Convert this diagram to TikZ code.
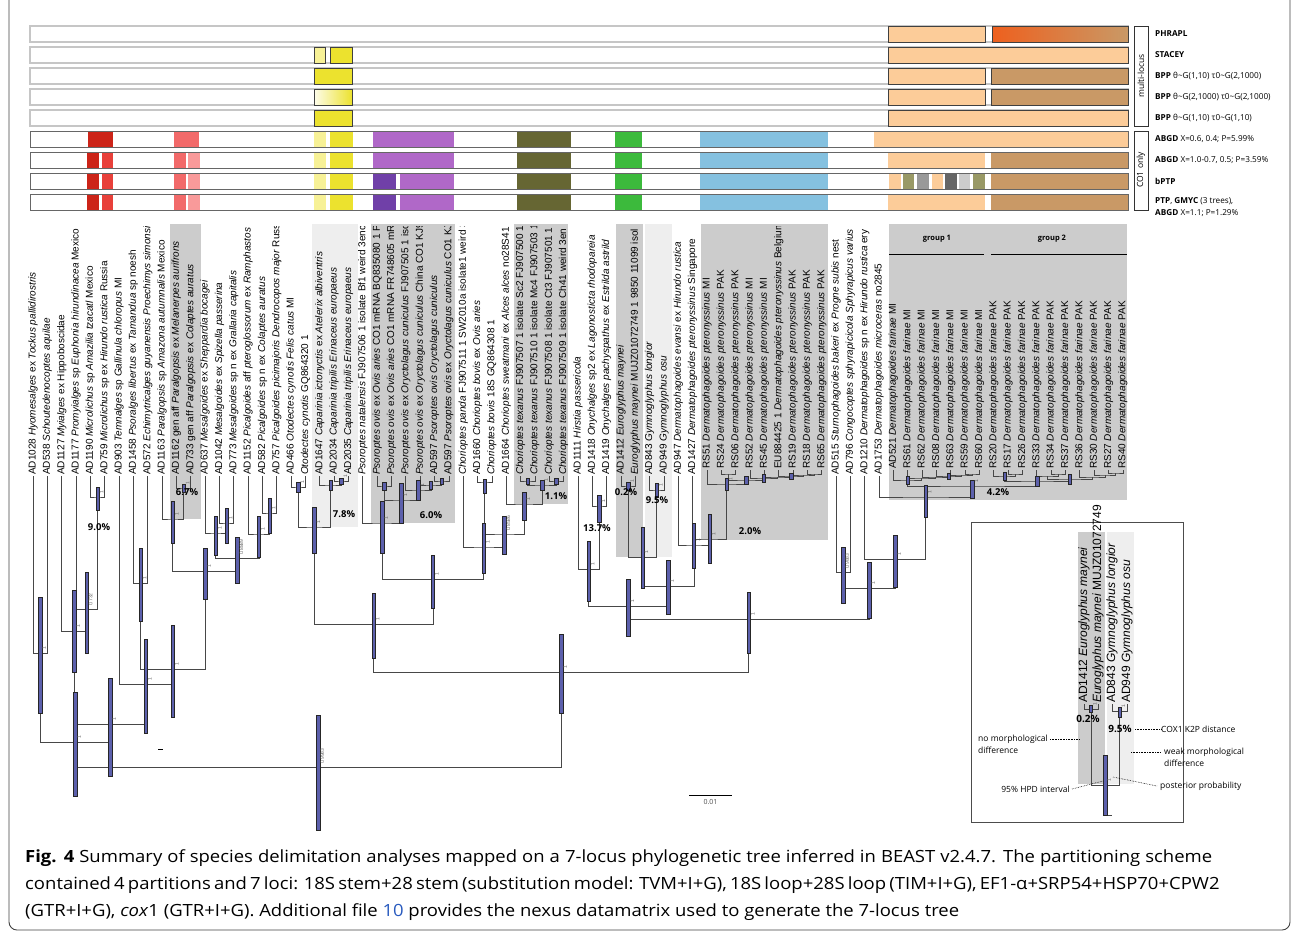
\documentclass[tikz,border=0pt]{standalone}
\usepackage{fontspec}
\setmainfont{Liberation Sans}
\newfontfamily\opensans{Open Sans}
\newfontfamily\capfont[FakeStretch=1.1]{Open Sans}
\usepackage{tikz}
\usetikzlibrary{calc}

\definecolor{red1}{RGB}{204,36,24}
\definecolor{red2}{RGB}{232,64,58}
\definecolor{sal1}{RGB}{242,106,106}
\definecolor{sal2}{RGB}{249,154,154}
\definecolor{ylw1}{RGB}{247,241,150}
\definecolor{ylw2}{RGB}{236,226,46}
\definecolor{pur1}{RGB}{176,104,200}
\definecolor{pur2}{RGB}{112,64,168}
\definecolor{olv}{RGB}{102,102,51}
\definecolor{olv2}{RGB}{153,153,102}
\definecolor{grn}{RGB}{60,186,60}
\definecolor{sky}{RGB}{133,193,224}
\definecolor{pch}{RGB}{252,204,153}
\definecolor{brn}{RGB}{201,153,102}
\definecolor{org}{RGB}{238,96,30}
\definecolor{gy1}{RGB}{153,153,153}
\definecolor{gy2}{RGB}{102,102,102}
\definecolor{gy3}{RGB}{204,204,204}
\definecolor{boxdark}{RGB}{204,204,204}
\definecolor{boxlight}{RGB}{238,238,238}
\definecolor{hpdblue}{RGB}{92,96,172}
\definecolor{linkblue}{RGB}{40,90,190}

\newcommand{\dpter}{\textit{Dermatophagoides pteronyssinus}}
\newcommand{\dfar}{\textit{Dermatophagoides farinae}}

% clade: name, height, left child, right child
\newcommand{\clade}[4]{%
  \path ($(#3)!0.5!(#4)$) coordinate (#1m);
  \coordinate (#1) at (#1m |- 0,#2);
  \draw[branch] (#3) |- (#1) -| (#4);}
% 95% HPD bar: node, top, bottom, posterior
\newcommand{\hpd}[4]{%
  \draw[hpdbar] ($(#1 |- 0,#2)+(-1.7,0)$) rectangle ($(#1 |- 0,#3)+(1.7,0)$);
  \node[pplab] (pp#1) at ($(#1)+(4,-3)$) {#4};}
% block in an alignment row: style, x1, x2, row top
\newcommand{\blk}[4][]{\fill[#1] (#2,#4) rectangle (#3,#4+16);}

\begin{document}
\begin{tikzpicture}[x=1pt,y=-1pt,
  branch/.style={draw=black!72,line width=0.7pt},
  hpdbar/.style={draw=black!85,fill=hpdblue,line width=0.5pt},
  tiplab/.style={rotate=90,anchor=west,inner sep=1pt,font=\fontsize{10}{11}\selectfont},
  pplab/.style={rotate=90,anchor=west,inner sep=0pt,text=black!60,font=\fontsize{5}{5}\selectfont},
  pct/.style={inner sep=0pt,font=\opensans\bfseries\fontsize{9.5}{10}\selectfont},
  sidelab/.style={anchor=west,inner sep=0pt,font=\opensans\fontsize{8.2}{9}\selectfont},
  annot/.style={inner sep=0pt,font=\opensans\fontsize{8.5}{9}\selectfont},
  mlrow/.style={draw=gray!45,line width=1.1pt},
  corow/.style={draw=black!60,line width=1pt},
  mlblk/.style={draw=black!75,line width=0.8pt},
  dotline/.style={densely dotted,line width=0.6pt},
  capt/.style={anchor=west,inner sep=0pt,font=\capfont\fontsize{16.8}{20}\selectfont}]
\useasboundingbox (0,0) rectangle (1295,932);

% frame
\draw[black!75,line width=0.9pt,rounded corners=8pt] (9,-10) -- (9,930) -- (1290,930) -- (1290,-10);

% ---- delimitation rows ----
\foreach \ry in {26,47,68,89,110}
  \draw[mlrow] (30,\ry) rectangle (1128,\ry+16);
% PHRAPL
\blk[mlblk,fill=pch]{888}{985}{26}
\shade[left color=org,right color=brn,draw=black!75,line width=0.8pt] (992,26) rectangle (1128,42);
% STACEY
\blk[mlblk,fill=ylw1]{314}{325}{47}
\blk[mlblk,fill=ylw2]{330}{352}{47}
\blk[mlblk,fill=pch]{888}{1128}{47}
% BPP rows
\blk[mlblk,fill=ylw2]{314}{352}{68}
\blk[mlblk,fill=pch]{888}{985}{68}
\blk[mlblk,fill=brn]{991}{1128}{68}
\shade[left color=ylw1!20,right color=ylw2,draw=black!75,line width=0.8pt] (314,89) rectangle (352,105);
\blk[mlblk,fill=pch]{888}{985}{89}
\blk[mlblk,fill=brn]{991}{1128}{89}
\blk[mlblk,fill=ylw2]{314}{352}{110}
\blk[mlblk,fill=pch]{888}{1128}{110}

% CO1 rows
\foreach \ry in {131,152,173,194}{
  \blk[ylw1]{314}{326}{\ry}
  \blk[ylw2]{330}{353}{\ry}
  \blk[olv]{517}{571}{\ry}
  \blk[grn]{615}{642}{\ry}
  \blk[sky]{700}{828}{\ry}
}
\blk[red1]{88}{113}{131}
\blk[sal1]{174}{199}{131}
\blk[pur1]{373}{454}{131}
\blk[pch]{874}{1128}{131}
\foreach \ry in {152,173,194}{
  \blk[red1]{87}{99}{\ry}
  \blk[red2]{102}{113}{\ry}
  \blk[sal1]{174}{186}{\ry}
  \blk[sal2]{188}{200}{\ry}
  \blk[brn]{991}{1128}{\ry}
}
\blk[pur1]{373}{454}{152}
\blk[pch]{888}{985}{152}
\foreach \ry in {173,194}{
  \blk[pur2]{373}{396}{\ry}
  \blk[pur1]{400}{454}{\ry}
}
\blk[pch]{888}{985}{194}
% bPTP
\blk[pch]{889}{901}{173}
\blk[olv2]{903}{914}{173}
\blk[gy1]{917}{929}{173}
\blk[pch]{932}{943}{173}
\blk[gy2]{945}{957}{173}
\blk[gy3]{959}{970}{173}
\blk[olv2]{973}{985}{173}
\foreach \ry in {131,152,173,194}
  \draw[corow] (30,\ry) rectangle (1128,\ry+16);

% method labels
\draw[black!80,line width=0.8pt] (1134,26) rectangle (1148,126);
\node[rotate=90,annot,font=\opensans\fontsize{8.5}{9}\selectfont] (mloc) at (1141,76) {multi-locus};
\draw[black!80,line width=0.8pt] (1134,131) rectangle (1148,210);
\node[rotate=90,annot,font=\opensans\fontsize{8.5}{9}\selectfont] (coonly) at (1141,170) {CO1 only};
\node[sidelab] (m1) at (1155,34) {\textbf{PHRAPL}};
\node[sidelab] (m2) at (1155,55) {\textbf{STACEY}};
\node[sidelab] (m3) at (1155,76) {\textbf{BPP} θ\textasciitilde G(1,10) τ0\textasciitilde G(2,1000)};
\node[sidelab] (m4) at (1155,97) {\textbf{BPP} θ\textasciitilde G(2,1000) τ0\textasciitilde G(2,1000)};
\node[sidelab] (m5) at (1155,118) {\textbf{BPP} θ\textasciitilde G(1,10) τ0\textasciitilde G(1,10)};
\node[sidelab] (m6) at (1155,139) {\textbf{ABGD} X=0.6, 0.4; P=5.99\%};
\node[sidelab] (m7) at (1155,160) {\textbf{ABGD} X=1.0-0.7, 0.5; P=3.59\%};
\node[sidelab] (m8) at (1155,181) {\textbf{bPTP}};
\node[sidelab] (m9) at (1155,201) {\textbf{PTP},\ \textbf{GMYC} (3 trees),};
\node[sidelab] (m10) at (1155,213) {\textbf{ABGD} X=1.1; P=1.29\%};

% ---- clade boxes ----
\fill[boxdark] (170,224) rectangle (201,519);
\fill[boxlight] (312,224) rectangle (358,527);
\fill[boxdark] (371,224) rectangle (455,523);
\fill[boxdark] (514,224) rectangle (568,504);
\fill[boxdark] (616,224) rectangle (643,557);
\fill[boxlight] (645,224) rectangle (672,557);
\fill[boxdark] (701,224) rectangle (828,540);
\fill[boxdark] (889,224) rectangle (1127,500);
\node[pct,font=\opensans\bfseries\fontsize{7.5}{8}\selectfont] (grp1) at (937,239) {group 1};
\node[pct,font=\opensans\bfseries\fontsize{7.5}{8}\selectfont] (grp2) at (1052,239) {group 2};
\draw[line width=0.9pt] (889,254) -- (984,254);
\draw[line width=0.9pt] (991,254) -- (1127,254);

% ---- tip labels ----
\begin{scope}
\clip (0,226) rectangle (1295,520);
\foreach \lab [count=\i] in {
  {AD1028 \textit{Hyomesalges} ex \textit{Tockus pallidirostris}},
  {AD538 \textit{Schoutedenocoptes aquilae}},
  {AD1127 \textit{Myialges} ex Hippoboscidae},
  {AD1177 \textit{Promyialges} sp \textit{Euphonia hirundinacea} Mexico},
  {AD1190 \textit{Microlichus} sp \textit{Amazilia tzacatl} Mexico},
  {AD759 \textit{Microlichus} sp ex \textit{Hirundo rustica} Russia},
  {AD903 \textit{Temnalges} sp \textit{Gallinula chloropus} MI},
  {AD1458 \textit{Psoralges libertus} ex \textit{Tamandua} sp noesh},
  {AD572 \textit{Echimytricalges guyanensis Proechimys simonsi}},
  {AD1163 \textit{Paralgopsis} sp \textit{Amazona autumnalis} Mexico},
  {AD1162 gen aff \textit{Paralgopsis} ex \textit{Melanerpes aurifrons}},
  {AD733 gen aff \textit{Paralgopsis} ex \textit{Colaptes auratus}},
  {AD637 \textit{Mesalgoides} ex \textit{Sheppardia bocagei}},
  {AD1042 \textit{Mesalgoides} ex \textit{Spizella passerina}},
  {AD773 \textit{Mesalgoides} sp n ex \textit{Grallaria capitalis}},
  {AD1152 \textit{Picalgoides} aff \textit{pteroglossorum} ex \textit{Ramphastos}},
  {AD582 \textit{Picalgoides} sp n ex \textit{Colaptes auratus}},
  {AD757 \textit{Picalgoides picimajoris Dendrocopos major} Russia},
  {AD466 \textit{Otodectes cynotis Felis catus} MI},
  {\textit{Otodectes cynotis} GQ864320 1},
  {AD1647 \textit{Caparinia ictonyctis} ex \textit{Atelerix albiventris}},
  {AD2034 \textit{Caparinia tripilis Erinaceus europaeus}},
  {AD2035 \textit{Caparinia tripilis Erinaceus europaeus}},
  {\textit{Psoroptes natalensis} FJ907506 1 isolate Bf1 weird 3enc},
  {\textit{Psoroptes ovis} ex \textit{Ovis aries} CO1 mRNA BQ835080 1 Po},
  {\textit{Psoroptes ovis} ex \textit{Ovis aries} CO1 mRNA FR748605 mRN},
  {\textit{Psoroptes ovis} ex \textit{Oryctolagus cuniculus} FJ907505 1 iso},
  {\textit{Psoroptes ovis} ex \textit{Oryctolagus cuniculus} China CO1 KJ9},
  {AD597 \textit{Psoroptes ovis Oryctolagus cuniculus}},
  {AD597 \textit{Psoroptes ovis} ex \textit{Oryctolagus cuniculus} CO1 KJ},
  {\textit{Chorioptes panda} FJ907511 1 SW2010a isolate1 weird 3},
  {AD1660 \textit{Chorioptes bovis} ex \textit{Ovis aries}},
  {\textit{Chorioptes bovis} 18S GQ864308 1},
  {AD1664 \textit{Chorioptes sweatmani} ex \textit{Alces alces} no28S41},
  {\textit{Chorioptes texanus} FJ907507 1 isolate Sc2 FJ907500 1},
  {\textit{Chorioptes texanus} FJ907510 1 isolate Mc4 FJ907503 1},
  {\textit{Chorioptes texanus} FJ907508 1 isolate Ct3 FJ907501 1},
  {\textit{Chorioptes texanus} FJ907509 1 isolate Ch41 weird 3en},
  {AD1111 \textit{Hirstia passericola}},
  {AD1418 \textit{Onychalges} sp2 ex \textit{Lagonosticta rhodopareia}},
  {AD1419 \textit{Onychalges pachyspathus} ex \textit{Estrilda astrild}},
  {AD1412 \textit{Euroglyphus maynei}},
  {\textit{Euroglyphus maynei} MUJZ01072749 1 9850 11099 isol},
  {AD843 \textit{Gymnoglyphus longior}},
  {AD949 \textit{Gymnoglyphus osu}},
  {AD947 \textit{Dermatophagoides evansi} ex \textit{Hirundo rustica}},
  {AD1427 \dpter{} Singapore},
  {RS51 \dpter{} MI}, {RS24 \dpter{} PAK}, {RS06 \dpter{} PAK},
  {RS52 \dpter{} MI}, {RS45 \dpter{} MI},
  {EU884425 1 \dpter{} Belgium},
  {RS19 \dpter{} PAK}, {RS18 \dpter{} PAK}, {RS65 \dpter{} PAK},
  {AD515 \textit{Sturnophagoides bakeri} ex \textit{Progne subis} nest},
  {AD796 \textit{Congocoptes sphyrapicicola Sphyrapicus varius}},
  {AD1210 \textit{Dermatophagoides} sp n ex \textit{Hirundo rustica} ery},
  {AD1753 \textit{Dermatophagoides microceras} no2845},
  {AD521 \dfar{} MI},
  {RS61 \dfar{} MI}, {RS62 \dfar{} MI}, {RS08 \dfar{} MI},
  {RS63 \dfar{} MI}, {RS59 \dfar{} MI}, {RS60 \dfar{} MI},
  {RS20 \dfar{} PAK}, {RS17 \dfar{} PAK}, {RS26 \dfar{} PAK},
  {RS33 \dfar{} PAK}, {RS34 \dfar{} PAK}, {RS37 \dfar{} PAK},
  {RS36 \dfar{} PAK}, {RS30 \dfar{} PAK}, {RS27 \dfar{} PAK},
  {RS40 \dfar{} PAK}}{
  \pgfmathsetmacro{\ty}{((\i>47) && (\i<57)) || (\i>60) ? 470 : 476}
  \coordinate (t\i) at ({33+(\i-1)*14.34},\ty);
  \node[tiplab] (lab\i) at (t\i) {\lab};
}
\end{scope}

% ---- tree ----
\clade{nA}{653}{t1}{t2}
\clade{nD}{497}{t5}{t6}
\clade{nC}{609}{t4}{nD}
\clade{nB}{631}{t3}{nC}
\clade{nG}{583}{t8}{t9}
\clade{nIb}{488}{t11}{t12}
\clade{nI}{519}{t10}{nIb}
\clade{nN}{523}{t14}{t15}
\clade{nLb}{533}{t13}{nN}
\clade{nO}{513}{t17}{t18}
\clade{nM}{534}{t16}{nO}
\clade{nK}{558}{nLb}{nM}
\clade{nJ}{571}{nI}{nK}
\clade{nF}{669}{nG}{nJ}
\clade{nE}{684}{t7}{nF}
\clade{nH}{724}{nB}{nE}
\clade{nLa}{742}{nA}{nH}
\clade{nP}{487}{t19}{t20}
\clade{nS}{481}{t22}{t23}
\clade{nR}{485}{t21}{nS}
\clade{nQ}{527}{nP}{nR}
\clade{nAB}{481}{t29}{t30}
\clade{nAA}{485}{t28}{nAB}
\clade{nZ}{490}{t27}{nAA}
\clade{nY}{486}{t25}{t26}
\clade{nX}{500}{nY}{nZ}
\clade{nV}{523}{t24}{nX}
\clade{nAD}{482}{t32}{t33}
\clade{nAG}{481}{t35}{t36}
\clade{nAH}{481}{t37}{t38}
\clade{nAF}{485}{nAG}{nAH}
\clade{nAE}{504}{t34}{nAF}
\clade{nAC}{534}{nAD}{nAE}
\clade{nW}{547}{t31}{nAC}
\clade{nU}{579}{nV}{nW}
\clade{nT}{624}{nQ}{nU}
\clade{nAO}{506}{t40}{t41}
\clade{nAM}{569}{t39}{nAO}
\clade{nAR}{486}{t42}{t43}
\clade{nAS}{490}{t44}{t45}
\clade{nAP}{557}{nAR}{nAS}
% pteronyssinus comb
\clade{rs1}{474}{t55}{t56}
\clade{rs2}{475}{t54}{rs1}
\clade{rs3}{476}{t53}{rs2}
\clade{rs4}{477}{t52}{rs3}
\clade{rs5}{478}{t51}{rs4}
\clade{rs6}{474}{t49}{t50}
\clade{rs7}{480}{rs6}{rs5}
\clade{nAU}{484}{t48}{rs7}
\clade{nAT}{539}{t47}{nAU}
\clade{nAQ}{545}{t46}{nAT}
\clade{nAN}{586}{nAP}{nAQ}
\clade{nAK}{606}{nAM}{nAN}
\clade{nAV}{572}{t57}{t58}
% farinae groups
\clade{ga1}{474}{t66}{t67}
\clade{ga2}{475}{t65}{ga1}
\clade{ga3}{476}{t64}{ga2}
\clade{ga4}{477}{t63}{ga3}
\clade{ga5}{478}{t62}{ga4}
\clade{nG1}{480}{t61}{ga5}
\clade{gb1}{474}{t69}{t70}
\clade{gb2}{476}{t68}{gb1}
\clade{gb3}{474}{t72}{t73}
\clade{gb4}{476}{t71}{gb3}
\clade{gb5}{473}{t76}{t77}
\clade{gb6}{475}{t75}{gb5}
\clade{gb7}{477}{t74}{gb6}
\clade{gb8}{479}{gb4}{gb7}
\clade{nG2}{481}{gb2}{gb8}
\clade{nBA}{486}{nG1}{nG2}
\clade{nAX}{497}{t60}{nBA}
\clade{nAW}{559}{t59}{nAX}
\clade{nAL}{588}{nAV}{nAW}
\clade{nAJ}{619}{nAK}{nAL}
\clade{nAI}{672}{nT}{nAJ}
\clade{nRoot}{767}{nLa}{nAI}

% HPD intervals
\hpd{nA}{597}{713}{1}
\hpd{nD}{487}{510}{1}
\hpd{nC}{572}{653}{0.732}
\hpd{nB}{590}{672}{1}
\hpd{nG}{548}{621}{1}
\hpd{nIb}{484}{492}{1}
\hpd{nI}{501}{543}{1}
\hpd{nN}{508}{543}{1}
\hpd{nLb}{516}{555}{1}
\hpd{nO}{498}{533}{1}
\hpd{nM}{516}{557}{1}
\hpd{nK}{537}{583}{0.8889}
\hpd{nJ}{548}{599}{1}
\hpd{nF}{625}{717}{1}
\hpd{nE}{639}{733}{1}
\hpd{nH}{678}{776}{1}
\hpd{nLa}{692}{796}{1}
\hpd{nP}{482}{492}{1}
\hpd{nS}{478}{484}{1}
\hpd{nR}{480}{490}{}
\hpd{nQ}{507}{553}{1}
\hpd{nAB}{478}{484}{}
\hpd{nAA}{481}{489}{}
\hpd{nZ}{480}{500}{1}
\hpd{nY}{482}{490}{}
\hpd{nX}{483}{523}{1}
\hpd{nV}{501}{553}{1}
\hpd{nAD}{479}{493}{}
\hpd{nAG}{478}{484}{}
\hpd{nAH}{478}{484}{}
\hpd{nAF}{480}{490}{1}
\hpd{nAE}{492}{520}{1}
\hpd{nAC}{516}{554}{0.8586}
\hpd{nW}{523}{573}{1}
\hpd{nU}{555}{608}{1}
\hpd{nT}{593}{658}{1}
\hpd{nAO}{495}{522}{1}
\hpd{nAM}{541}{601}{1}
\hpd{nAR}{482}{490}{1}
\hpd{nAS}{483}{497}{1}
\hpd{nAP}{527}{588}{1}
\hpd{rs3}{473}{479}{}
\hpd{rs5}{474}{482}{}
\hpd{rs7}{476}{484}{}
\hpd{nAU}{478}{490}{1}
\hpd{nAT}{514}{563}{1}
\hpd{nAQ}{523}{568}{1}
\hpd{nAN}{560}{614}{1}
\hpd{nAK}{579}{636}{1}
\hpd{nAV}{547}{603}{0.9883}
\hpd{ga3}{473}{479}{}
\hpd{nG1}{476}{484}{}
\hpd{gb2}{472}{480}{}
\hpd{gb8}{474}{484}{}
\hpd{nG2}{476}{486}{}
\hpd{nBA}{480}{498}{1}
\hpd{nAX}{485}{517}{1}
\hpd{nAW}{535}{587}{1}
\hpd{nAL}{562}{618}{1}
\hpd{nAJ}{592}{653}{1}
\hpd{nAI}{634}{713}{1}
\hpd{nRoot}{715}{830}{0.9983}

% K2P distances
\node[pct] (p90) at (99,527) {9.0\%};
\node[pct] (p67) at (187,492) {6.7\%};
\node[pct] (p78) at (344,514) {7.8\%};
\node[pct] (p60) at (431,515) {6.0\%};
\node[pct] (p11) at (556,496) {1.1\%};
\node[pct] (p137) at (597,528) {13.7\%};
\node[pct] (p02) at (626,492) {0.2\%};
\node[pct] (p95) at (657,500) {9.5\%};
\node[pct] (p20) at (750,531) {2.0\%};
\node[pct] (p42) at (998,492) {4.2\%};
\draw[line width=1pt] (158,749) -- (163,749);

% scale bar
\coordinate (sb1) at (689,795);
\coordinate (sb2) at (732,795);
\draw[line width=0.8pt] (sb1) -- (sb2) node[midway,below=4pt,inner sep=0pt,text=black!70,font=\opensans\fontsize{7}{7}\selectfont] (sbl) {0.01};

% ---- inset legend ----
\draw[black!70,line width=0.8pt] (971,522) rectangle (1183,822);
\fill[boxdark] (1078,532) rectangle (1105,784);
\fill[boxlight] (1107,532) rectangle (1134,784);
\coordinate (i1) at (1084,704);
\coordinate (i2) at (1098,704);
\coordinate (i3) at (1112,704);
\coordinate (i4) at (1127,704);
\node[tiplab,font=\fontsize{12}{13}\selectfont] (il1) at (i1) {AD1412 \textit{Euroglyphus maynei}};
\node[tiplab,font=\fontsize{12}{13}\selectfont] (il2) at (i2) {\textit{Euroglyphus maynei} MUJZ01072749};
\node[tiplab,font=\fontsize{12}{13}\selectfont] (il3) at (i3) {AD843 \textit{Gymnoglyphus longior}};
\node[tiplab,font=\fontsize{12}{13}\selectfont] (il4) at (i4) {AD949 \textit{Gymnoglyphus osu}};
\clade{ia}{709}{i1}{i2}
\clade{ib}{711}{i3}{i4}
\clade{ir}{785}{ia}{ib}
\draw[branch] (ir) -- (ir |- 0,815) -- ++(7,0);
\hpd{ia}{705}{712}{1}
\hpd{ib}{707}{717}{1}
\hpd{ir}{755}{815}{1}
\node[pct,font=\opensans\bfseries\fontsize{10}{10}\selectfont] (ip02) at (1088,719) {0.2\%};
\node[pct,font=\opensans\bfseries\fontsize{10}{10}\selectfont] (ip95) at (1120,729) {9.5\%};
\node[annot,anchor=west] (cox) at (1161,729) {COX1 K2P distance};
\draw[dotline] (1135,729) -- (cox.west);
\node[annot,anchor=west] (nm1) at (978,739) {no morphological};
\node[annot,anchor=west] (nm2) at (978,750) {difference};
\coordinate (nmend) at (1079,739);
\draw[dotline] ([xshift=2pt]nm1.east) -- (nmend);
\node[annot,anchor=west] (wm1) at (1164,752) {weak morphological};
\node[annot,anchor=west] (wm2) at (1164,763) {difference};
\coordinate (wmend) at (1131,752);
\draw[dotline] (wmend) -- ([xshift=-3pt]wm1.west);
\node[annot,anchor=west] (ppl) at (1160,786) {posterior probability};
\coordinate (ppend) at (1113,777);
\draw[dotline] (ppend) -- ([xshift=-3pt]ppl.west);
\node[annot,anchor=east] (hpdl) at (1070,789) {95\% HPD interval};
\coordinate (hpdend) at (1103,781);
\draw[dotline] ([xshift=2pt]hpdl.east) -- (hpdend);

% ---- caption ----
\node[capt] (cap1) at (25,858) {\makebox[1187pt][s]{\textbf{Fig. 4} Summary of species delimitation analyses mapped on a 7-locus phylogenetic tree inferred in BEAST v2.4.7. The partitioning scheme}};
\node[capt] (cap2) at (25,885) {\makebox[1187pt][s]{contained 4 partitions and 7 loci: 18S stem+28 stem (substitution model: TVM+I+G), 18S loop+28S loop (TIM+I+G), EF1-α+SRP54+HSP70+CPW2}};
\node[capt] (cap3) at (25,912) {(GTR+I+G), \textit{cox}1 (GTR+I+G). Additional file \textcolor{linkblue}{10} provides the nexus datamatrix used to generate the 7-locus tree};
\end{tikzpicture}
\end{document}
